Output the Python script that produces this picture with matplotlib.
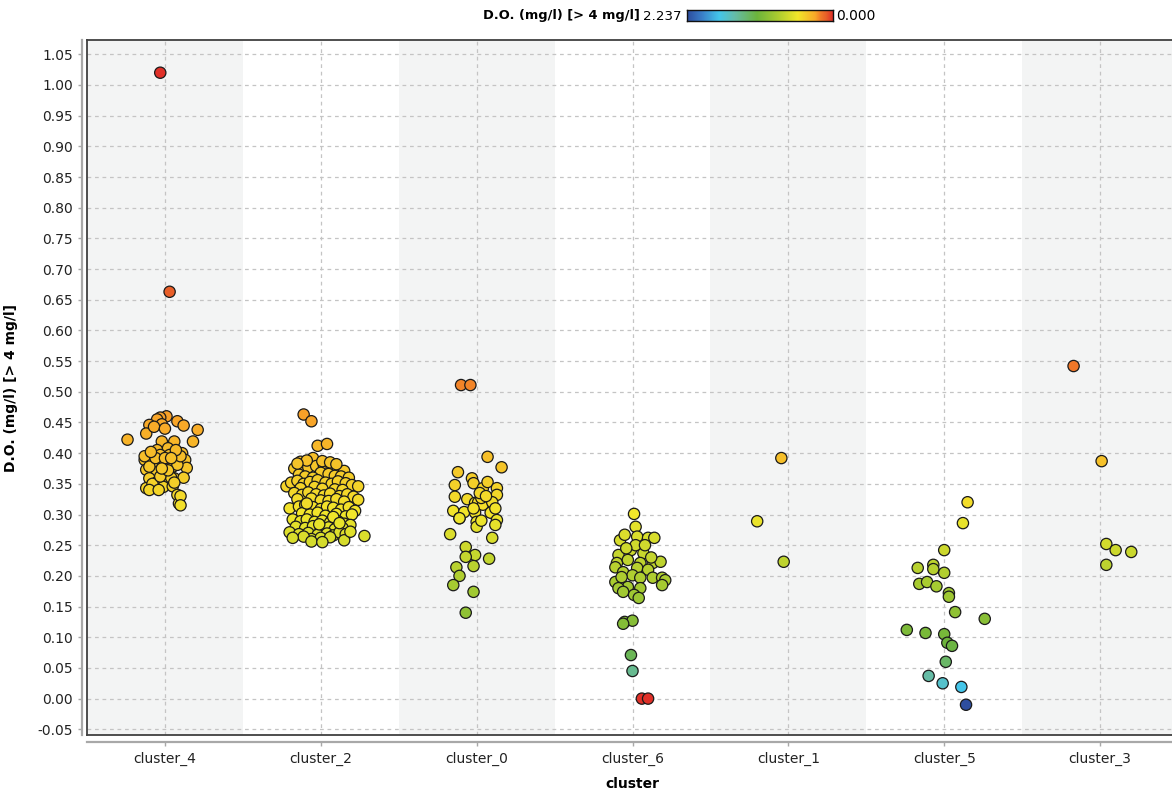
import numpy as np
import matplotlib
matplotlib.use("Agg")
import matplotlib.pyplot as plt
from matplotlib.colors import LinearSegmentedColormap

plt.rcParams['font.family'] = ['DejaVu Sans']

categories = ["cluster_4", "cluster_2", "cluster_0", "cluster_6", "cluster_1", "cluster_5", "cluster_3"]

# (jitter offset in category units, D.O. value) per cluster
c4_dx = [-0.03, 0.03, -0.24, 0.01, -0.03, -0.05, 0.08, 0.12, -0.10, -0.02, -0.12, 0.21, 0.18, -0.02, 0.06, -0.07, 0.00,
         -0.13, -0.05, 0.02, 0.11, 0.13, 0.14, -0.12, -0.03, 0.03, -0.01, 0.05, -0.08, -0.05, 0.01, 0.08, -0.10, -0.05,
         0.06, 0.00, -0.12, -0.08, -0.01, 0.05, 0.08, 0.09, 0.10, -0.10, -0.13, -0.10, 0.10, 0.04, -0.03, 0.07, -0.06,
         0.00, 0.02, -0.09, 0.04, -0.02, 0.12, -0.04, 0.06, 0.10]
c4_y = [1.020, 0.663, 0.422, 0.460, 0.458, 0.455, 0.452, 0.445, 0.446, 0.447, 0.432, 0.438, 0.419, 0.419, 0.419, 0.443, 0.440,
        0.389, 0.405, 0.408, 0.400, 0.389, 0.376, 0.373, 0.397, 0.397, 0.381, 0.378, 0.384, 0.369, 0.368, 0.381, 0.359, 0.353,
        0.359, 0.351, 0.343, 0.350, 0.345, 0.346, 0.332, 0.318, 0.330, 0.340, 0.395, 0.378, 0.395, 0.360, 0.362, 0.405, 0.392,
        0.392, 0.372, 0.402, 0.392, 0.375, 0.360, 0.340, 0.352, 0.315]

c2_dx = [-0.11, -0.06, -0.02, 0.04, -0.22, 0.28, -0.13, -0.05,
         -0.17, -0.12, -0.08, -0.03, 0.02, 0.07, 0.11, 0.15, -0.14, 0.00, 0.05, 0.09, 0.13, 0.18, -0.10, -0.05,
         -0.19, -0.15, -0.11, -0.07, -0.02, 0.03, 0.07, 0.11, 0.16, 0.20, 0.24, -0.13, -0.04, 0.01, 0.09, 0.14,
         -0.17, -0.12, -0.08, -0.03, 0.02, 0.06, 0.12, 0.17, 0.21, -0.15, -0.06, 0.00, 0.05, 0.10, 0.15, 0.24,
         -0.20, -0.14, -0.10, -0.05, 0.00, 0.04, 0.08, 0.13, 0.18, 0.22, -0.12, -0.07, -0.02, 0.03, 0.10, 0.16, 0.20,
         -0.18, -0.13, -0.09, -0.04, 0.01, 0.06, 0.11, 0.15, 0.19, -0.16, -0.10, -0.05, 0.00, 0.05, 0.09, 0.14,
         -0.20, -0.14, -0.08, -0.02, 0.04, 0.08, 0.12, 0.16, -0.06, 0.00, 0.06, -0.11, -0.06, 0.15, 0.01,
         -0.09, 0.01, 0.06, -0.15, 0.10, -0.18, 0.19, -0.01, 0.08, -0.09, 0.12]
c2_y = [0.463, 0.452, 0.412, 0.415, 0.346, 0.265, 0.386, 0.392,
        0.375, 0.372, 0.377, 0.379, 0.380, 0.376, 0.373, 0.371, 0.365, 0.368, 0.366, 0.363, 0.362, 0.360, 0.362, 0.360,
        0.352, 0.355, 0.350, 0.353, 0.356, 0.352, 0.350, 0.354, 0.351, 0.348, 0.346, 0.343, 0.345, 0.342, 0.341, 0.340,
        0.335, 0.332, 0.336, 0.333, 0.331, 0.334, 0.330, 0.333, 0.329, 0.325, 0.326, 0.323, 0.322, 0.325, 0.321, 0.324,
        0.310, 0.313, 0.316, 0.312, 0.309, 0.313, 0.311, 0.308, 0.312, 0.306, 0.302, 0.300, 0.303, 0.298, 0.301, 0.297, 0.300,
        0.292, 0.289, 0.292, 0.288, 0.290, 0.287, 0.289, 0.285, 0.283, 0.280, 0.278, 0.281, 0.277, 0.279, 0.276, 0.278,
        0.271, 0.268, 0.270, 0.267, 0.269, 0.266, 0.271, 0.268, 0.260, 0.262, 0.263, 0.264, 0.256, 0.258, 0.255,
        0.388, 0.387, 0.385, 0.383, 0.382, 0.262, 0.272, 0.284, 0.296, 0.318, 0.286]

c0_dx = [-0.10, -0.04, 0.07, 0.16, -0.12, -0.14, -0.14, -0.15, -0.11, -0.03, -0.02, 0.04, 0.07, 0.13, 0.13, -0.06,
         -0.01, 0.01, 0.04, 0.10, 0.03, -0.08, -0.01, 0.09, -0.11, 0.00, 0.13, 0.12, 0.00, -0.17, 0.10, -0.07, -0.01,
         -0.07, 0.08, -0.02, -0.13, -0.11, -0.15, -0.02, -0.07, 0.02, 0.06, -0.02, 0.03, 0.12]
c0_y = [0.511, 0.511, 0.394, 0.377, 0.369, 0.348, 0.329, 0.306, 0.294, 0.359, 0.351, 0.343, 0.353, 0.343, 0.332, 0.325,
        0.319, 0.320, 0.316, 0.320, 0.327, 0.304, 0.303, 0.303, 0.294, 0.288, 0.291, 0.283, 0.280, 0.268, 0.262, 0.247, 0.234,
        0.231, 0.228, 0.216, 0.214, 0.200, 0.185, 0.174, 0.140, 0.335, 0.330, 0.310, 0.290, 0.310]

c6_dx = [0.01, 0.02, -0.08, -0.05, 0.03, 0.10, 0.14, -0.09, -0.01, 0.07, -0.10, -0.03, 0.05, 0.13, 0.18, -0.11, -0.06,
         0.03, 0.10, 0.00, 0.05, 0.13, 0.19, 0.21, -0.11, -0.03, -0.09, 0.19, 0.05, -0.06, 0.01, 0.04, 0.02, -0.04,
         0.08, -0.07, 0.12, -0.05, 0.00, -0.06, -0.01, 0.00]
c6_y = [0.301, 0.280, 0.258, 0.267, 0.264, 0.262, 0.262, 0.234, 0.242, 0.237, 0.221, 0.226, 0.221, 0.221, 0.223, 0.214, 0.206,
        0.213, 0.210, 0.201, 0.197, 0.197, 0.197, 0.193, 0.190, 0.182, 0.180, 0.185, 0.180, 0.174, 0.169, 0.164, 0.250,
        0.245, 0.250, 0.198, 0.230, 0.125, 0.127, 0.122, 0.071, 0.045]
# two flagged readings drawn in the top colour of the scale
c6_flag_dx = [0.06, 0.10]
c6_flag_y = [0.000, 0.000]
c6_flag_c = [1.02, 1.02]

c1_dx = [-0.20, -0.045, -0.03]
c1_y = [0.289, 0.392, 0.223]

c5_dx = [0.15, 0.12, 0.00, -0.17, -0.07, -0.07, 0.00, -0.16, -0.11, -0.05, 0.03, 0.03, 0.07, 0.26, -0.24, -0.12,
         0.00, 0.02, 0.05, 0.01, -0.10, -0.01, 0.11, 0.14]
c5_y = [0.320, 0.286, 0.242, 0.213, 0.218, 0.211, 0.205, 0.187, 0.190, 0.183, 0.172, 0.166, 0.141, 0.130, 0.112, 0.107,
        0.105, 0.091, 0.086, 0.060, 0.037, 0.025, 0.019, -0.010]

c3_dx = [-0.17, 0.01, 0.04, 0.10, 0.20, 0.04]
c3_y = [0.542, 0.387, 0.252, 0.242, 0.239, 0.218]

cluster_dx = [c4_dx, c2_dx, c0_dx, c6_dx, c1_dx, c5_dx, c3_dx]
cluster_y = [c4_y, c2_y, c0_y, c6_y, c1_y, c5_y, c3_y]

colorbar_min_label = "2.237"
colorbar_max_label = "0.000"
yticks = [-0.05, 0.00, 0.05, 0.10, 0.15, 0.20, 0.25, 0.30, 0.35, 0.40, 0.45, 0.50, 0.55, 0.60, 0.65,
          0.70, 0.75, 0.80, 0.85, 0.90, 0.95, 1.00, 1.05]

# ---- colour scale ----
cmap = LinearSegmentedColormap.from_list("do", [
    (0.00, "#2d4c9d"), (0.10, "#3a7ec8"), (0.22, "#44c6ea"), (0.33, "#66bca6"),
    (0.48, "#6cb43c"), (0.62, "#aacc30"), (0.76, "#f2e62a"), (0.88, "#f8a828"),
    (0.92, "#f07828"), (0.955, "#e86028"), (1.00, "#e03028")])
scale_y = [-0.011, 0.019, 0.025, 0.037, 0.06, 0.10, 0.14, 0.20, 0.30, 0.45, 0.54, 0.66, 1.02]
scale_t = [0.0, 0.22, 0.27, 0.33, 0.42, 0.50, 0.56, 0.63, 0.76, 0.88, 0.92, 0.955, 1.0]

def to_t(v):
    return np.interp(np.asarray(v, dtype=float), scale_y, scale_t)

W, H = 1172, 795
fig = plt.figure(figsize=(W / 100, H / 100), dpi=100)
ax = fig.add_axes([87 / W, (H - 735) / H, (1178 - 87) / W, 695 / H])

# alternating bands
for i in range(len(categories)):
    if i % 2 == 0:
        ax.axvspan(i - 0.5, i + 0.5, color="#f3f4f4", zorder=0, lw=0)

ax.set_xlim(-0.5, len(categories) - 0.5)
ax.set_ylim(-0.0593, 1.0733)
ax.set_yticks(yticks)
ax.set_yticklabels([f"{t:.2f}" for t in yticks])
ax.set_xticks(range(len(categories)))
ax.set_xticklabels(categories)

ax.grid(True, color="#c4c4c4", linestyle=(0, (3, 3)), linewidth=0.9, zorder=1)
ax.set_axisbelow(True)

ms = 66
for i, (dxs, ys) in enumerate(zip(cluster_dx, cluster_y)):
    xs = i + np.asarray(dxs)
    ax.scatter(xs, ys, c=to_t(ys), cmap=cmap, vmin=0, vmax=1, s=ms,
               edgecolors="#1a1a1a", linewidths=0.9, zorder=3)
ax.scatter(3 + np.asarray(c6_flag_dx), c6_flag_y, c=to_t(c6_flag_c), cmap=cmap, vmin=0, vmax=1,
           s=ms, edgecolors="#1a1a1a", linewidths=0.9, zorder=3)

# spines
for side in ("top", "right"):
    ax.spines[side].set_color("#404040")
    ax.spines[side].set_linewidth(1.3)
ax.spines["left"].set_position(("outward", 3.6))
ax.spines["bottom"].set_position(("outward", 5))
for side in ("left", "bottom"):
    ax.spines[side].set_color("#a8a8a8")
    ax.spines[side].set_linewidth(1.6)
ax.plot([0, 0], [0, 1], transform=ax.transAxes, color="#404040", lw=1.3, clip_on=False, zorder=5)
ax.plot([0, 1], [0, 0], transform=ax.transAxes, color="#404040", lw=1.3, clip_on=False, zorder=5)

ax.tick_params(axis="y", length=3, width=1, color="#a8a8a8", pad=3.5, labelsize=10, labelcolor="#222222")
ax.tick_params(axis="x", length=3, width=1, color="#a8a8a8", pad=4, labelsize=10, labelcolor="#222222")

ax.set_xlabel("cluster", fontsize=10, fontweight="bold", labelpad=8)
ax.set_ylabel("D.O. (mg/l) [> 4 mg/l]", fontsize=10, fontweight="bold")
ax.yaxis.set_label_coords(-(87 - 18) / (1178 - 87), 0.5)

# colour legend at top
fig.text(483 / W, 1 - 16 / H, "D.O. (mg/l) [> 4 mg/l]", fontsize=9.4, fontweight="bold", ha="left", va="center")
fig.text(682 / W, 1 - 16 / H, colorbar_min_label, fontsize=9.6, ha="right", va="center")
fig.text(836 / W, 1 - 16 / H, colorbar_max_label, fontsize=10, ha="left", va="center")
cax = fig.add_axes([687 / W, 1 - 21 / H, (833 - 687) / W, 11 / H])
cax.imshow(np.linspace(0, 1, 256)[None, :], aspect="auto", cmap=cmap, extent=(0, 1, 0, 1))
cax.set_xticks([])
cax.set_yticks([])
for s in cax.spines.values():
    s.set_color("#111111")
    s.set_linewidth(1.0)

fig.savefig("out.png", dpi=100)
